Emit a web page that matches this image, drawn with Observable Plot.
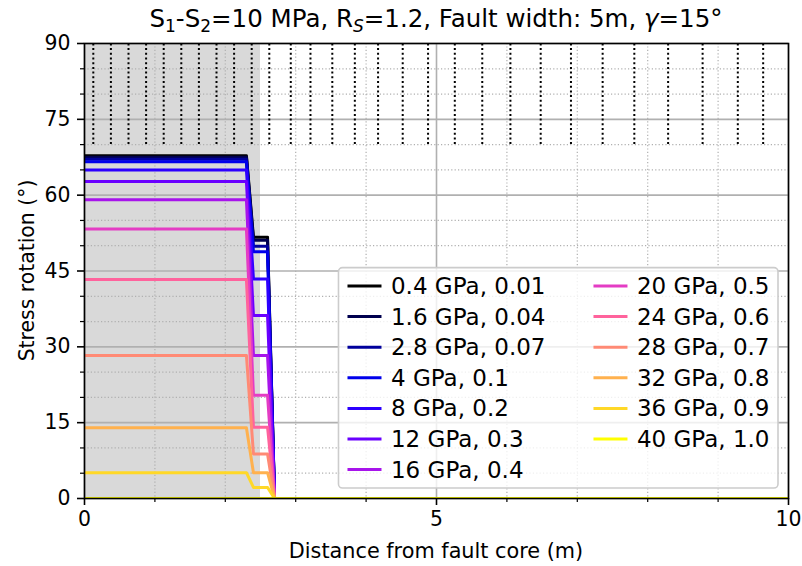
<!DOCTYPE html>
<html>
<head>
<meta charset="utf-8">
<script src="https://cdn.jsdelivr.net/npm/d3@7"></script>
<script src="https://cdn.jsdelivr.net/npm/@observablehq/plot@0.6"></script>
<style>
  html, body { margin: 0; padding: 0; background: #fff; }
  svg { display: block; }
</style>
</head>
<body>
<div id="chart"></div>
<script>
// ---------- data ----------
const labels = [
  "0.4 GPa, 0.01", "1.6 GPa, 0.04", "2.8 GPa, 0.07", "4 GPa, 0.1",
  "8 GPa, 0.2", "12 GPa, 0.3", "16 GPa, 0.4",
  "20 GPa, 0.5", "24 GPa, 0.6", "28 GPa, 0.7", "32 GPa, 0.8",
  "36 GPa, 0.9", "40 GPa, 1.0"
];
// rotation inside the fault core (plateau) and in the transition step
const plateauDeg = [67.8, 67.5, 67.1, 66.6, 65.0, 62.7, 59.1, 53.3, 43.3, 28.3, 14.0, 5.1, 0];
const stepDeg    = [51.7, 51.1, 49.9, 48.8, 43.4, 36.2, 28.3, 20.4, 14.1, 8.8, 5.1, 2.2, 0];
// sampled distances of each profile (m)
const profileX = [0, 2.3, 2.4, 2.6, 2.7, 10];
const colors = [
  "#000000", "#00004e", "#00009c", "#0000eb", "#2d00ff", "#6a00ff", "#a714eb",
  "#e43cc4", "#ff639c", "#ff8a75", "#ffb14e", "#ffd827", "#ffff00"
];
// black dotted vertical markers in the top band
const markerX = [0.125, 0.375, 0.625, 0.875, 1.125, 1.375, 1.625, 1.875, 2.125, 2.375, 2.625,
  2.93, 3.21, 3.52, 3.84, 4.17, 4.52, 4.88, 5.26, 5.65, 6.05, 6.48, 6.91, 7.36, 7.81,
  8.29, 8.78, 9.28, 9.64];
const markerBand = [70, 90];
const faultZone = [[0, 2.5]];
const xMajor = [0, 5, 10];
const xMinor = [1, 2, 3, 4, 6, 7, 8, 9];
const yMajor = [0, 15, 30, 45, 60, 75, 90];
const yMinor = [5, 10, 20, 25, 35, 40, 50, 55, 65, 70, 80, 85];

const titleParts = [["S", 0], ["1", 1], ["-S", 0], ["2", 1], ["=10 MPa, R", 0], ["S", 2], ["=1.2, Fault width: 5m, ", 0], ["γ", 3], ["=15°", 0]];
const xLabel = "Distance from fault core (m)";
const yLabel = "Stress rotation (°)";

// ---------- table ----------
const rows = [];
labels.forEach((label, i) => {
  const ys = [plateauDeg[i], plateauDeg[i], stepDeg[i], stepDeg[i], 0, 0];
  profileX.forEach((x, j) => rows.push({label, x, y: ys[j]}));
});

const fs = 20.4;
const font = "'DejaVu Sans', 'Liberation Sans', sans-serif";
const W = 802, H = 566, mT = 43, mB = 68, mL = 84, mR = 14;

const plot = Plot.plot({
  width: W, height: H,
  marginTop: mT, marginBottom: mB, marginLeft: mL, marginRight: mR,
  style: {fontFamily: font, fontSize: fs + "px", background: "#fff", color: "#000"},
  x: {domain: [0, 10]},
  y: {domain: [0, 90]},
  color: {domain: labels, range: colors},
  marks: [
    Plot.rect(faultZone, {x1: d => d[0], x2: d => d[1], fill: "#d9d9d9"}),
    Plot.ruleX(xMinor, {stroke: "#b0b0b0", strokeWidth: 1.2, strokeDasharray: "1.2,2.2"}),
    Plot.ruleY(yMinor, {stroke: "#b0b0b0", strokeWidth: 1.2, strokeDasharray: "1.2,2.2"}),
    Plot.ruleX(xMajor, {stroke: "#b0b0b0", strokeWidth: 1.6}),
    Plot.ruleY(yMajor, {stroke: "#b0b0b0", strokeWidth: 1.6}),
    Plot.ruleX(markerX, {y1: markerBand[0], y2: markerBand[1], stroke: "#000", strokeWidth: 2, strokeDasharray: "2,2.7"}),
    Plot.line(rows, {x: "x", y: "y", z: "label", stroke: "label", strokeWidth: 3, clip: true,
      strokeLinejoin: "round", strokeLinecap: "square"}),
    Plot.axisX(xMajor, {tickSize: 7, tickPadding: 6, strokeWidth: 1.6, label: null, fontSize: fs}),
    Plot.axisX(xMinor, {tickSize: 4, strokeWidth: 1.2, tickFormat: () => "", label: null}),
    Plot.axisY(yMajor, {tickSize: 7, tickPadding: 7, strokeWidth: 1.6, label: null, fontSize: fs}),
    Plot.axisY(yMinor, {tickSize: 4, strokeWidth: 1.2, tickFormat: () => "", label: null}),
    Plot.frame({stroke: "#000", strokeWidth: 1.6})
  ]
});
document.getElementById("chart").append(plot);

const svg = d3.select(plot);
const xs = plot.scale("x"), ys = plot.scale("y");
const F = {left: xs.apply(0), right: xs.apply(10), top: ys.apply(90), bottom: ys.apply(0)};

// ---------- title ----------
const t = svg.append("text")
  .attr("x", (F.left + F.right) / 2).attr("y", 27)
  .attr("text-anchor", "middle").attr("font-family", font)
  .attr("font-size", 24.5).attr("fill", "#000");
let shifted = false;
titleParts.forEach(([s, kind]) => {
  const sp = t.append("tspan").text(s);
  const sub = kind === 1 || kind === 2;
  if (sub && !shifted) { sp.attr("dy", 5).attr("font-size", 17); shifted = true; }
  else if (!sub && shifted) { sp.attr("dy", -5); shifted = false; }
  if (kind === 2 || kind === 3) sp.attr("font-style", "italic");
});

// ---------- axis labels ----------
svg.append("text").attr("x", (F.left + F.right) / 2).attr("y", 558)
  .attr("text-anchor", "middle").attr("font-family", font).attr("font-size", 20.8)
  .attr("fill", "#000").text(xLabel);
svg.append("text").attr("transform", `translate(34,${(F.top + F.bottom) / 2}) rotate(-90)`)
  .attr("text-anchor", "middle").attr("font-family", font).attr("font-size", fs)
  .attr("fill", "#000").text(yLabel);

// ---------- legend ----------
const lfs = 23;
const padL = 9, padR = 8.5, padV = 8.2, handleLen = 34, textPad = 9.5, colSpace = 48, rowPitch = 30.6, rowH = 20.4;
const nRows = 7;
const cols = [labels.slice(0, nRows), labels.slice(nRows)];
const lg = svg.append("g").attr("font-family", font).attr("font-size", lfs).attr("text-anchor", "start");
const box = lg.append("rect");
const tmp = lg.append("text").attr("font-size", lfs);
const widthOf = s => { tmp.text(s); return tmp.node().getComputedTextLength(); };
const colW = cols.map(c => handleLen + textPad + d3.max(c, widthOf));
tmp.remove();
const boxW = padL + colW[0] + colSpace + colW[1] + padR;
const boxH = 2 * padV + rowH + (nRows - 1) * rowPitch;
const bx = F.right - 10 - boxW, by = F.bottom - 10 - boxH;
box.attr("x", bx).attr("y", by).attr("width", boxW).attr("height", boxH)
  .attr("rx", 4).attr("fill", "#fff").attr("fill-opacity", 0.8)
  .attr("stroke", "#cccccc").attr("stroke-width", 1.6);
cols.forEach((c, ci) => {
  const x0 = bx + padL + (ci === 0 ? 0 : colW[0] + colSpace);
  c.forEach((lab, ri) => {
    const cy = by + padV + rowH / 2 + ri * rowPitch;
    lg.append("line").attr("x1", x0).attr("x2", x0 + handleLen).attr("y1", cy).attr("y2", cy)
      .attr("stroke", colors[labels.indexOf(lab)]).attr("stroke-width", 3).attr("stroke-linecap", "butt");
    lg.append("text").attr("x", x0 + handleLen + textPad).attr("y", cy + 0.35 * lfs)
      .attr("text-anchor", "start").attr("fill", "#000").text(lab);
  });
});
</script>
</body>
</html>
